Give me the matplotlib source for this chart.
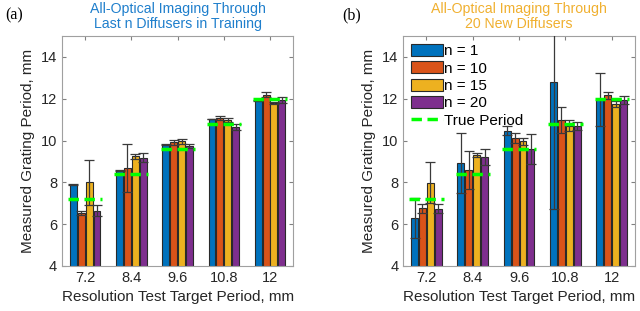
import numpy as np
import matplotlib
matplotlib.use('Agg')
from matplotlib import pyplot as plt

plt.rcParams['font.family'] = ['Liberation Sans', 'DejaVu Sans']

periods = ['7.2', '8.4', '9.6', '10.8', '12']
true_period = [7.2, 8.4, 9.6, 10.8, 12.0]
series_names = ['n = 1', 'n = 10', 'n = 15', 'n = 20']

# panel (a): last n diffusers in training
a_mean = [
    [7.88, 8.55, 9.80, 11.03, 11.90],   # n = 1
    [6.55, 8.68, 9.91, 11.07, 12.20],   # n = 10
    [8.00, 9.24, 9.96, 10.99, 11.80],   # n = 15
    [6.65, 9.18, 9.72, 10.65, 11.95],   # n = 20
]
a_err = [
    [0.02, 0.02, 0.02, 0.02, 0.02],
    [0.10, 1.16, 0.10, 0.10, 0.10],
    [1.07, 0.12, 0.12, 0.08, 0.05],
    [0.27, 0.20, 0.10, 0.13, 0.15],
]

# panel (b): 20 new diffusers
b_mean = [
    [6.28, 8.92, 10.48, 12.80, 11.97],
    [6.76, 8.60, 10.12, 11.00, 12.17],
    [7.99, 9.29, 9.96, 10.72, 11.74],
    [6.73, 9.21, 9.60, 10.69, 11.95],
]
b_err = [
    [0.95, 1.42, 0.20, 6.07, 1.28],
    [0.22, 0.90, 0.22, 0.62, 0.17],
    [0.97, 0.10, 0.15, 0.27, 0.15],
    [0.22, 0.38, 0.70, 0.18, 0.20],
]

colors = ['#0072BD', '#D95319', '#EDB120', '#7E2F8E']


def draw_panel(ax, means, errs, title, title_color, legend=False):
    x = np.arange(1, len(periods) + 1)
    pitch = 0.17
    width = 0.15
    handles = []
    for i, (m, e) in enumerate(zip(means, errs)):
        xi = x + (i - 1.5) * pitch
        b = ax.bar(xi, m, width, color=colors[i], edgecolor='#2a2a2a', linewidth=0.8,
                   label=series_names[i], zorder=2)
        handles.append(b)
        ax.errorbar(xi, m, yerr=e, fmt='none', ecolor='#3a3a3a', elinewidth=0.9,
                    capsize=3.5, capthick=0.9, zorder=3)
    for j, tp in enumerate(true_period):
        ln, = ax.plot([x[j] - 0.37, x[j] + 0.37], [tp, tp], color='#00FF00', lw=2.5,
                      dashes=(3, 1.6), zorder=4, label='True Period')
        if j == 0:
            handles.append(ln)
    ax.set_xlim(0.5, 5.5)
    ax.set_ylim(4, 15)
    ax.set_yticks([4, 6, 8, 10, 12, 14])
    ax.set_xticks(x)
    ax.set_xticklabels(periods)
    ax.tick_params(direction='in', top=True, right=True, labelsize=10.5,
                   color='#808080', labelcolor='#262626', length=3)
    for s in ax.spines.values():
        s.set_color('#a0a0a0')
        s.set_linewidth(0.8)
    ax.set_xlabel('Resolution Test Target Period, mm', fontsize=11, color='#262626')
    ax.set_ylabel('Measured Grating Period, mm', fontsize=11, color='#262626')
    ax.set_title(title, fontsize=10.2, color=title_color, pad=6, linespacing=1.1)
    if legend:
        ax.legend(handles=handles, loc='upper left', frameon=False, fontsize=11,
                  handlelength=2.1, handleheight=0.85, handletextpad=0.1,
                  labelspacing=0.2, borderaxespad=0.2, borderpad=0.3)


fig = plt.figure(figsize=(6.4, 3.11), dpi=100)
ax1 = fig.add_axes([0.097, 0.145, 0.361, 0.739])
ax2 = fig.add_axes([0.630, 0.145, 0.362, 0.739])

draw_panel(ax1, a_mean, a_err, 'All-Optical Imaging Through\nLast n Diffusers in Training', '#1f7fcc')
draw_panel(ax2, b_mean, b_err, 'All-Optical Imaging Through\n20 New Diffusers', '#F0B030', legend=True)

fig.text(0.008, 0.952, '(a)', fontsize=11.5, family='Liberation Serif', va='center')
fig.text(0.534, 0.952, '(b)', fontsize=11.5, family='Liberation Serif', va='center')

fig.savefig('out.png', dpi=100)
